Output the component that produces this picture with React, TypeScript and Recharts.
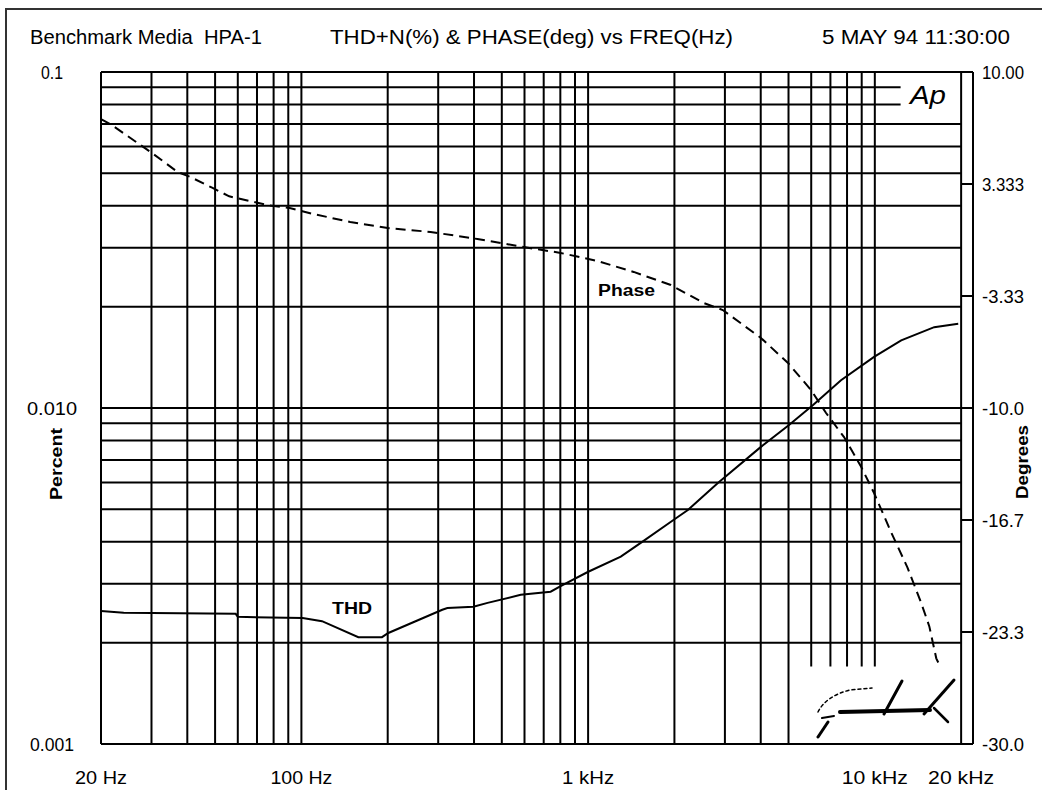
import { ComposedChart, Line, XAxis, YAxis, ReferenceLine } from 'recharts';

// THD+N (%)
const thdFreq = [20, 24, 59, 60, 101, 118, 158, 191, 201, 310, 323, 398, 446, 582, 740, 802, 997, 1300, 1526, 1990, 2228, 2835, 4006, 5020, 6090, 7620, 9940, 12360, 16110, 19540];
const thdPct = [0.00249, 0.00246, 0.00244, 0.00239, 0.00237, 0.00232, 0.00208, 0.00208, 0.00214, 0.00251, 0.00254, 0.00256, 0.00263, 0.00278, 0.00284, 0.00295, 0.00325, 0.00361, 0.00397, 0.00465, 0.00497, 0.00598, 0.00766, 0.0089, 0.0102, 0.0121, 0.0142, 0.0159, 0.0174, 0.0178];

// phase (deg)
const phaseFreq = [20, 22, 30, 37, 41, 49, 56, 76, 91, 110, 148, 200, 282, 411, 596, 802, 1080, 1442, 1943, 2530, 2950, 4006, 4980, 5990, 6760, 7810, 8960, 9940, 11400, 13000, 14510, 15490, 16380, 16700];
const phaseDeg = [7.2, 6.8, 5.2, 4.05, 3.75, 3.1, 2.6, 2.08, 1.9, 1.55, 1.07, 0.71, 0.48, 0.06, -0.42, -0.77, -1.25, -1.9, -2.68, -3.75, -4.17, -5.83, -7.32, -8.93, -10.3, -11.73, -13.5, -15.06, -17.4, -19.5, -21.6, -23.0, -24.9, -25.2];

// axes
const freqTicks = [20, 100, 1000, 10000, 20000];
const freqLabels = ['20 Hz', '100 Hz', '1 kHz', '10 kHz', '20 kHz'];
const pctTicks = [0.001, 0.01, 0.1];
const pctLabels = ['0.001', '0.010', '0.1'];
const degTicks = [10, 10 / 3, -10 / 3, -10, -50 / 3, -70 / 3, -30];
const degLabels = ['10.00', '3.333', '-3.33', '-10.0', '-16.7', '-23.3', '-30.0'];

// grid
const gridFreqs = [30, 40, 50, 60, 70, 80, 90, 100, 200, 300, 400, 500, 600, 700, 800, 900, 1000, 2000, 3000, 4000, 5000, 20000];
const cutFreqs = [6000, 7000, 8000, 9000, 10000];
const gridPcts = [0.07, 0.06, 0.05, 0.04, 0.03, 0.02, 0.01, 0.009, 0.008, 0.007, 0.006, 0.005, 0.004, 0.003, 0.002];
const shortPcts = [0.09, 0.08];

const thdData = thdFreq.map((f, i) => ({ f, v: thdPct[i] }));
const phaseData = phaseFreq.map((f, i) => ({ f, d: phaseDeg[i] }));

const FONT = 'Liberation Sans, Arial, sans-serif';
const INK = '#000';

const freqW: Record<string, number> = { '20 Hz': 52, '100 Hz': 62, '1 kHz': 52, '10 kHz': 66, '20 kHz': 66 };
const pctW: Record<string, number> = { '0.001': 44, '0.010': 50, '0.1': 22 };

const FreqTick = ({ x, payload }: any) => {
  const label = freqLabels[freqTicks.indexOf(payload.value)];
  return (
    <text x={x} y={784} textAnchor="middle" fontFamily={FONT} fontSize={19} fill={INK}
      textLength={freqW[label]} lengthAdjust="spacingAndGlyphs">{label}</text>
  );
};

const PctTick = ({ y, payload }: any) => {
  const label = pctLabels[pctTicks.indexOf(payload.value)];
  return (
    <text x={52} y={y + 7} textAnchor="middle" fontFamily={FONT} fontSize={19} fill={INK}
      textLength={pctW[label]} lengthAdjust="spacingAndGlyphs">{label}</text>
  );
};

const DegTick = ({ y, payload }: any) => {
  const idx = degTicks.findIndex((t) => Math.abs(t - payload.value) < 1e-6);
  return (
    <text x={982} y={y + 7} textAnchor="start" fontFamily={FONT} fontSize={19} fill={INK}
      textLength={42} lengthAdjust="spacingAndGlyphs">{degLabels[idx]}</text>
  );
};

const gridLine = { stroke: INK, strokeWidth: 2, ifOverflow: 'visible' as const };

export default function App() {
  return (
    <div style={{ position: 'absolute', left: 0, top: 0, width: 1042, height: 790, background: '#fff', overflow: 'hidden' }}>
      <div style={{ position: 'absolute', left: 5, top: 8, width: 1100, height: 900, borderLeft: '2px solid #333', borderTop: '2px solid #333' }} />
      <ComposedChart width={1042} height={790} margin={{ top: 72, right: 9, bottom: 6, left: 61 }}
        style={{ position: 'absolute', left: 0, top: 0 }}>
        <XAxis dataKey="f" type="number" scale="log" domain={[20, 22000]} allowDataOverflow
          ticks={freqTicks} tick={<FreqTick />} axisLine={false} tickLine={false} height={40} />
        <YAxis yAxisId="left" type="number" scale="log" domain={[0.001, 0.1]} allowDataOverflow
          ticks={pctTicks} tick={<PctTick />} axisLine={false} tickLine={false} width={40} />
        <YAxis yAxisId="right" orientation="right" type="number" domain={[-30, 10]} allowDataOverflow
          ticks={degTicks} tick={<DegTick />} axisLine={false} tickLine={false} width={60} />

        {gridFreqs.map((f) => (
          <ReferenceLine key={'vf' + f} yAxisId="left" x={f} {...gridLine} />
        ))}
        {cutFreqs.map((f) => (
          <ReferenceLine key={'vc' + f} yAxisId="left" {...gridLine}
            segment={[{ x: f, y: 0.0017 }, { x: f, y: 0.1 }]} />
        ))}
        {gridPcts.map((p) => (
          <ReferenceLine key={'hp' + p} yAxisId="left" {...gridLine}
            segment={[{ x: 20, y: p }, { x: 20000, y: p }]} />
        ))}
        {shortPcts.map((p) => (
          <ReferenceLine key={'hs' + p} yAxisId="left" {...gridLine}
            segment={[{ x: 20, y: p }, { x: 12300, y: p }]} />
        ))}
        {degTicks.map((d) => (
          <ReferenceLine key={'dt' + d} yAxisId="right" {...gridLine}
            segment={[{ x: 20000, y: d }, { x: 22000, y: d }]} />
        ))}

        {/* plot frame */}
        <ReferenceLine yAxisId="left" x={20} {...gridLine} />
        <ReferenceLine yAxisId="left" x={22000} {...gridLine} />
        <ReferenceLine yAxisId="left" y={0.1} {...gridLine} />
        <ReferenceLine yAxisId="left" y={0.001} {...gridLine} />

        <Line data={thdData} dataKey="v" yAxisId="left" type="linear" stroke={INK} strokeWidth={2}
          dot={false} isAnimationActive={false} />
        <Line data={phaseData} dataKey="d" yAxisId="right" type="linear" stroke={INK} strokeWidth={2}
          strokeDasharray="10 6" dot={false} isAnimationActive={false} />
      </ComposedChart>

      <svg width={1042} height={790} style={{ position: 'absolute', left: 0, top: 0, pointerEvents: 'none' }}
        fontFamily={FONT} fill={INK}>
        <text x={30} y={44} fontSize={20} textLength={232} lengthAdjust="spacingAndGlyphs"
          style={{ whiteSpace: 'pre' }}>Benchmark Media  HPA-1</text>
        <text x={330} y={44} fontSize={20} textLength={403} lengthAdjust="spacingAndGlyphs">THD+N(%) &amp; PHASE(deg) vs FREQ(Hz)</text>
        <text x={822} y={44} fontSize={20} textLength={188} lengthAdjust="spacingAndGlyphs">5 MAY 94 11:30:00</text>

        <text transform="translate(62,464) rotate(-90)" textAnchor="middle" fontSize={16} fontWeight="bold"
          textLength={72} lengthAdjust="spacingAndGlyphs">Percent</text>
        <text transform="translate(1028,462) rotate(-90)" textAnchor="middle" fontSize={16} fontWeight="bold"
          textLength={74} lengthAdjust="spacingAndGlyphs">Degrees</text>

        <text x={332} y={614} fontSize={16} fontWeight="bold" textLength={40} lengthAdjust="spacingAndGlyphs">THD</text>
        <text x={598} y={296} fontSize={16} fontWeight="bold" textLength={57} lengthAdjust="spacingAndGlyphs">Phase</text>

        <text x={910} y={104} fontSize={26} fontStyle="italic" textLength={36} lengthAdjust="spacingAndGlyphs">Ap</text>

        {/* signature scribble */}
        <g fill="none" stroke={INK} strokeLinecap="round">
          <path d="M818 712 Q826 696 850 690 L872 688" strokeWidth={1.5} strokeDasharray="3 3" />
          <path d="M822 718 L834 716" strokeWidth={2} />
          <path d="M840 712 L930 710" strokeWidth={4} />
          <path d="M884 714 L902 681" strokeWidth={3} />
          <path d="M924 714 L954 680" strokeWidth={3} />
          <path d="M934 708 L948 722" strokeWidth={2.5} />
          <path d="M818 737 L828 722" strokeWidth={3} />
        </g>
      </svg>
    </div>
  );
}
